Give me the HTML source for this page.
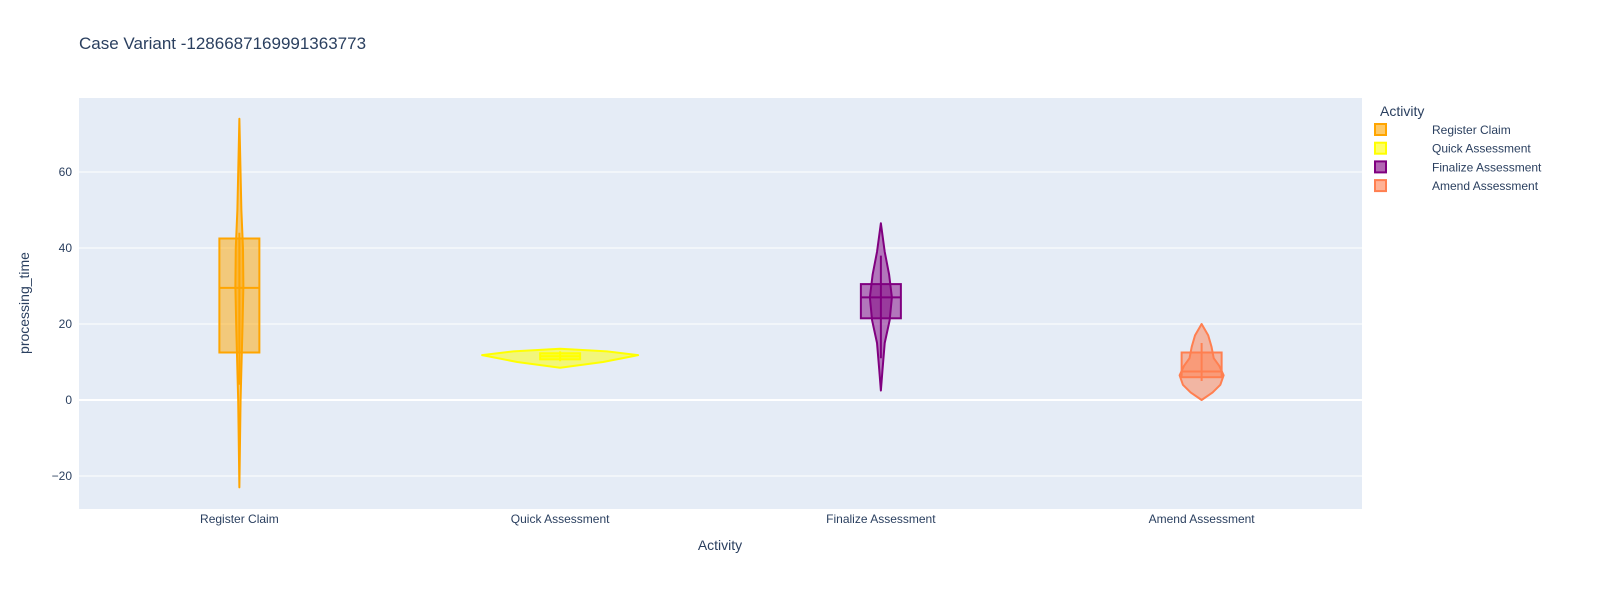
<!DOCTYPE html>
<html><head><meta charset="utf-8"><style>
html,body{margin:0;padding:0;overflow:hidden;background:#fff;font-family:"Liberation Sans",Arial,sans-serif}
svg{display:block}
</style></head><body>
<svg id="chart" width="1600" height="600" xmlns="http://www.w3.org/2000/svg">
<rect width="1600" height="600" fill="#fff"/>
<text x="79" y="49" font-size="17" fill="#2a3f5f">Case Variant -1286687169991363773</text>
<rect x="79" y="98" width="1283" height="411" fill="#e5ecf6"/>
<g id="grid"></g>
<g id="marks"></g>
<g id="xticks"></g>
<text x="720" y="550" font-size="14" fill="#2a3f5f" text-anchor="middle">Activity</text>
<text transform="translate(29,303) rotate(-90)" font-size="14" fill="#2a3f5f" text-anchor="middle">processing_time</text>
<g id="legend"><text x="1380" y="116" font-size="14" fill="#2a3f5f">Activity</text></g>
</svg>
<script>
const categories=["Register Claim","Quick Assessment","Finalize Assessment","Amend Assessment"];
const colors=["#ffa500","#ffff00","#800080","#ff7f50"];
const q1=[12.5,10.7,21.5,6];
const medians=[29.5,11.5,27,7.5];
const q3=[42.5,12.3,30.5,12.5];
const whiskLo=[4,10.2,11,5];
const whiskHi=[44,12.8,38,15];
const violinYs=[[-23,0,20,30,40,50,74],[8.5,10,11.8,12.8,13.5],[2.5,8,15,21,27,33,39,46.5],[0,2,4,6.5,9,11,14,17,20]];
const violinDens=[[0,0.3,0.8,1,0.9,0.5,0],[0,0.55,1,0.6,0],[0,0.15,0.35,0.8,1,0.75,0.35,0],[0,0.5,0.85,1,0.8,0.55,0.45,0.3,0]];
const violinMaxHalf=[4,78,11,22];
const yTicks=[-20,0,20,40,60];
const NS="http://www.w3.org/2000/svg";
const X0=79,W=1283,Y0v=400,PX=3.8;
const xs=i=>X0+W/categories.length*(i+0.5);
const ys=v=>Y0v-v*PX;
function mk(t,a,p){const e=document.createElementNS(NS,t);for(const k in a)e.setAttribute(k,a[k]);p.appendChild(e);return e;}
const grid=document.getElementById('grid');
yTicks.forEach(t=>{
 const l=mk('line',{x1:79,x2:1362,y1:ys(t),y2:ys(t),stroke:'#fff','stroke-width':t===0?2:1},grid);
 
 
 const tx=mk('text',{x:72,y:ys(t)+4,'font-size':12,fill:'#2a3f5f','text-anchor':'end'},grid);
 tx.textContent=t<0?'\u2212'+(-t):t;
 
 
});
const marks=document.getElementById('marks'),xt=document.getElementById('xticks'),lg=document.getElementById('legend');
categories.forEach((c,i)=>{
 const cx=xs(i),col=colors[i];
 const g=mk('g',{},marks);
 
 
 const Y=violinYs[i],D=violinDens[i],M=violinMaxHalf[i];
 let r=Y.map((v,k)=>[cx+D[k]*M,ys(v)]),l=Y.map((v,k)=>[cx-D[k]*M,ys(v)]).reverse();
 const pts=r.concat(l).map(p=>p.join(',')).join(' ');
 mk('polygon',{points:pts,fill:col,'fill-opacity':0.5,stroke:col,'stroke-width':2,'stroke-linejoin':'round'},g);
 mk('line',{x1:cx,x2:cx,y1:ys(whiskLo[i]),y2:ys(whiskHi[i]),stroke:col,'stroke-width':2},g);
 mk('rect',{x:cx-20,y:ys(q3[i]),width:40,height:ys(q1[i])-ys(q3[i]),fill:col,'fill-opacity':0.5,stroke:col,'stroke-width':2},g);
 mk('line',{x1:cx-20,x2:cx+20,y1:ys(medians[i]),y2:ys(medians[i]),stroke:col,'stroke-width':2},g);
 const t=mk('text',{x:cx,y:523,'font-size':12,fill:'#2a3f5f','text-anchor':'middle'},xt);
 t.textContent=c;
 
 
 const ly=130+i*18.7;
 const e=mk('g',{},lg);
 
 
 mk('rect',{x:1375,y:ly-6,width:11,height:11,fill:col,'fill-opacity':0.6,stroke:col,'stroke-width':2},e);
 const lt=mk('text',{x:1432,y:ly+4,'font-size':12,fill:'#2a3f5f'},e);
 lt.textContent=c;
});
</script>
</body></html>
